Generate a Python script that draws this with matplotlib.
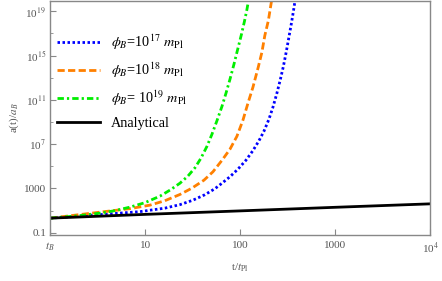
import numpy as np
import matplotlib
matplotlib.use("Agg")
import matplotlib.pyplot as plt
from matplotlib.ticker import FixedLocator, NullFormatter

plt.rcParams['font.family'] = ['Liberation Serif', 'DejaVu Serif']
plt.rcParams['mathtext.fontset'] = 'stix'

# Data (t/t_Pl, a/a_B)
t_17 = [1, 3.34, 8.80, 16.1, 23.2, 31.8, 42.5, 54.2, 64.3, 78.0, 94.6, 114.8, 136.1,
        157.4, 177.7, 200.6, 221, 243.4, 265, 285, 306, 325.5, 346, 363, 378.4, 382]
a_17 = [2.1, 4.4, 8.1, 16.8, 34.7, 88, 275, 955, 3.0e3, 1.15e4, 5.5e4, 3.5e5, 2.6e6,
        2.0e7, 1.45e8, 1.75e9, 2.1e10, 3.9e11, 7.1e12, 1.05e14, 2.3e15, 4.3e16, 7.8e17,
        9.3e18, 9.1e19, 1.7e20]

t_18 = [1, 3.34, 6.90, 11.2, 16.1, 23.2, 31.0, 41.5, 51.6, 64.3, 78.0, 92.3, 106.7,
        121.4, 136.1, 154.7, 169.1, 181.8, 198.0, 214.1, 216.6]
a_18 = [2.1, 7.3, 15.1, 31.3, 79, 288, 1.07e3, 5.6e3, 3.2e4, 3.5e5, 3.5e6, 5.1e7, 1.4e9,
        5.9e10, 1.35e12, 8.5e13, 1.9e15, 6.5e16, 1.45e18, 9.1e19, 1.7e20]

t_19 = [1, 2.05, 3.34, 4.80, 6.90, 9.93, 14.3, 18.2, 23.2, 28.1, 33.4, 38.6, 44.7, 50.4,
        56.9, 64.3, 70.8, 78.0, 85.9, 94.6, 103.0, 110.8, 117.7, 122.3, 124.1]
a_19 = [2.1, 3.55, 5.96, 10.0, 20.7, 52.5, 204, 708, 3.0e3, 1.3e4, 7.4e4, 5.4e5, 6.5e6,
        7.8e7, 1.3e9, 2.6e10, 3.9e11, 7.1e12, 1.6e14, 4.4e15, 7.9e16, 1.2e18, 1.4e19,
        9.1e19, 1.7e20]

t_an = [1, 10, 100, 1000, 1e4]
a_an = [2.1, 4.6, 9.5, 20, 41]

labels = [r'$\phi_B$=10$^{17}$ $m_{\rm Pl}$',
          r'$\phi_B$=10$^{18}$ $m_{\rm Pl}$',
          r'$\phi_B$= 10$^{19}$ $m_{\rm Pl}$',
          'Analytical']

xticks = [1, 10, 100, 1000, 1e4]
xticklabels = [r'$t_B$', '10', '100', '1000', r'10$^4$']
yticks = [1e-1, 1e3, 1e7, 1e11, 1e15, 1e19]
yticklabels = ['0.1', '1000', r'10$^{7}$', r'10$^{11}$', r'10$^{15}$', r'10$^{19}$']
yminor = [1e1, 1e5, 1e9, 1e13, 1e17]

fig = plt.figure(figsize=(4.42, 2.81), dpi=100)
ax = fig.add_axes([0.1138, 0.1637, 0.973 - 0.1138, 0.998 - 0.1637])

ax.plot(t_17, a_17, color='#0000ff', ls=(0, (0.9, 0.9)), lw=2.0, label=labels[0])
ax.plot(t_18, a_18, color='#ff8000', ls=(0, (2.6, 1.2)), lw=2.0, label=labels[1])
ax.plot(t_19, a_19, color='#00ee00', ls=(0, (2.3, 1.1, 0.8, 1.1)), lw=2.0, label=labels[2])
ax.plot(t_an, a_an, color='black', lw=2.0, label=labels[3])

ax.set_xscale('log')
ax.set_yscale('log')
ax.set_xlim(1, 1e4)
ax.set_ylim(10**-1.2, 10**19.97)

ax.xaxis.set_major_locator(FixedLocator(xticks))
ax.set_xticklabels(xticklabels)
ax.xaxis.set_minor_locator(FixedLocator([]))
ax.yaxis.set_major_locator(FixedLocator(yticks))
ax.set_yticklabels(yticklabels)
ax.yaxis.set_minor_locator(FixedLocator(yminor))
ax.yaxis.set_minor_formatter(NullFormatter())

gray = '#888888'
for s in ax.spines.values():
    s.set_color(gray)
    s.set_linewidth(1.0)
ax.tick_params(which='both', direction='in', color=gray, labelcolor='#555555', labelsize=8)
ax.tick_params(which='major', length=4, width=0.8)
ax.tick_params(which='minor', length=2.5, width=0.6)
ax.tick_params(axis='x', top=False, pad=4)
ax.tick_params(axis='y', right=False, pad=3)

ax.set_xlabel(r't/$t_{\rm Pl}$', fontsize=8, color='#555555', labelpad=4)
ax.set_ylabel(r'a(t)/$a_B$', fontsize=8, color='#555555', labelpad=2)

leg = ax.legend(loc='upper left', frameon=False, fontsize=10.3, handlelength=3.0,
                handletextpad=0.8, labelspacing=0.6, bbox_to_anchor=(-0.005, 0.90),
                borderaxespad=0.2)

# place legend rows at the same vertical spacing as in the reference
fig.canvas.draw()
texts = leg.get_texts()
lines = leg.get_lines()
target_y = [40, 67.5, 96, 123.5]  # pixel rows from the top in the reference
H = fig.bbox.height
for txt, ln, ty in zip(texts, lines, target_y):
    bb = txt.get_window_extent()
    cur = H - (bb.y0 + bb.y1) / 2.0
    # shift handled by the legend packer offsets below
leg.set_bbox_to_anchor((-0.005, 0.90), transform=ax.transAxes)

fig.savefig('out.png', dpi=100)
